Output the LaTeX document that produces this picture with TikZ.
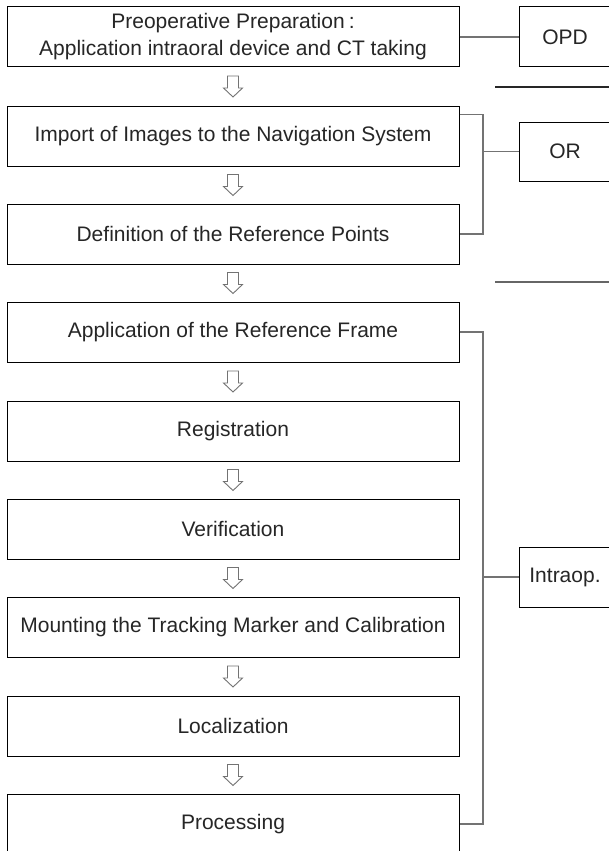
\documentclass[tikz,border=0pt]{standalone}
\usepackage{fontspec}
\setmainfont{Liberation Sans}
\usetikzlibrary{calc}
\begin{document}
\begin{tikzpicture}[x=1pt,y=-1pt,
  stepbox/.style={draw=black, line width=1pt, minimum width=452pt, minimum height=60pt,
    inner sep=0pt, align=center, text=black!85, font=\fontsize{21}{27}\selectfont},
  sidebox/.style={draw=black, line width=1pt, minimum width=92pt, minimum height=60pt,
    inner sep=0pt, align=center, text=black!85, font=\fontsize{21}{27}\selectfont},
  link/.style={draw=black!55, line width=1.3pt},
  divider/.style={line width=1.2pt},
  flowarrow/.pic={\draw[black!55, line width=0.9pt, fill=white, line join=miter]
    (-5.5,-10.5) -- (5.5,-10.5) -- (5.5,1.5) -- (9.5,1.5) -- (0,10.5)
    -- (-9.5,1.5) -- (-5.5,1.5) -- cycle;}]
\useasboundingbox (0,0) rectangle (609,851);
\clip (0,0) rectangle (609,851);
\fill[white] (0,0) rectangle (609,851);

% main workflow steps
\node[stepbox] (s1) at (233,37) {Preoperative Preparation\kern4pt:\\Application intraoral device and CT taking};
\node[stepbox] (s2) at (233,136) {Import of Images to the Navigation System};
\node[stepbox] (s3) at (233,234) {Definition of the Reference Points};
\node[stepbox] (s4) at (233,332) {Application of the Reference Frame};
\node[stepbox] (s5) at (233,431) {Registration};
\node[stepbox] (s6) at (233,529) {Verification};
\node[stepbox] (s7) at (233,627) {Mounting the Tracking Marker and Calibration};
\node[stepbox] (s8) at (233,726) {Localization};
\node[stepbox] (s9) at (233,824) {Processing};

% hollow arrows between consecutive steps
\foreach \a/\b in {s1/s2,s2/s3,s3/s4,s4/s5,s5/s6,s6/s7,s7/s8,s8/s9}
  \path ($(\a.south)!0.5!(\b.north)$) pic {flowarrow};

% location labels
\node[sidebox] (opd) at (565,37) {OPD};
\node[sidebox, minimum height=59pt] (or) at (565,151.5) {OR};
\node[sidebox] (intra) at (565,577) {Intraop.};

% brackets grouping steps by location
\coordinate (spine) at (483,0);
\coordinate (s2tap) at ($(s2.north east)+(0,9)$);
\draw[link] (s1.east) -- (opd.west);
\draw[link] (s2tap) -- (s2tap -| spine) |- (s3.east);
\draw[link] (or.west) -- (or.west -| spine);
\draw[link] (s4.east) -- (s4.east -| spine) |- (s9.east);
\draw[link] (intra.west) -- (intra.west -| spine);

% dividers between location groups
\coordinate (d1a) at (495,87);
\coordinate (d1b) at (612,87);
\coordinate (d2a) at (495,282);
\coordinate (d2b) at (612,282);
\draw[divider, black!85] (d1a) -- (d1b);
\draw[divider, black!60] (d2a) -- (d2b);
\end{tikzpicture}
\end{document}
